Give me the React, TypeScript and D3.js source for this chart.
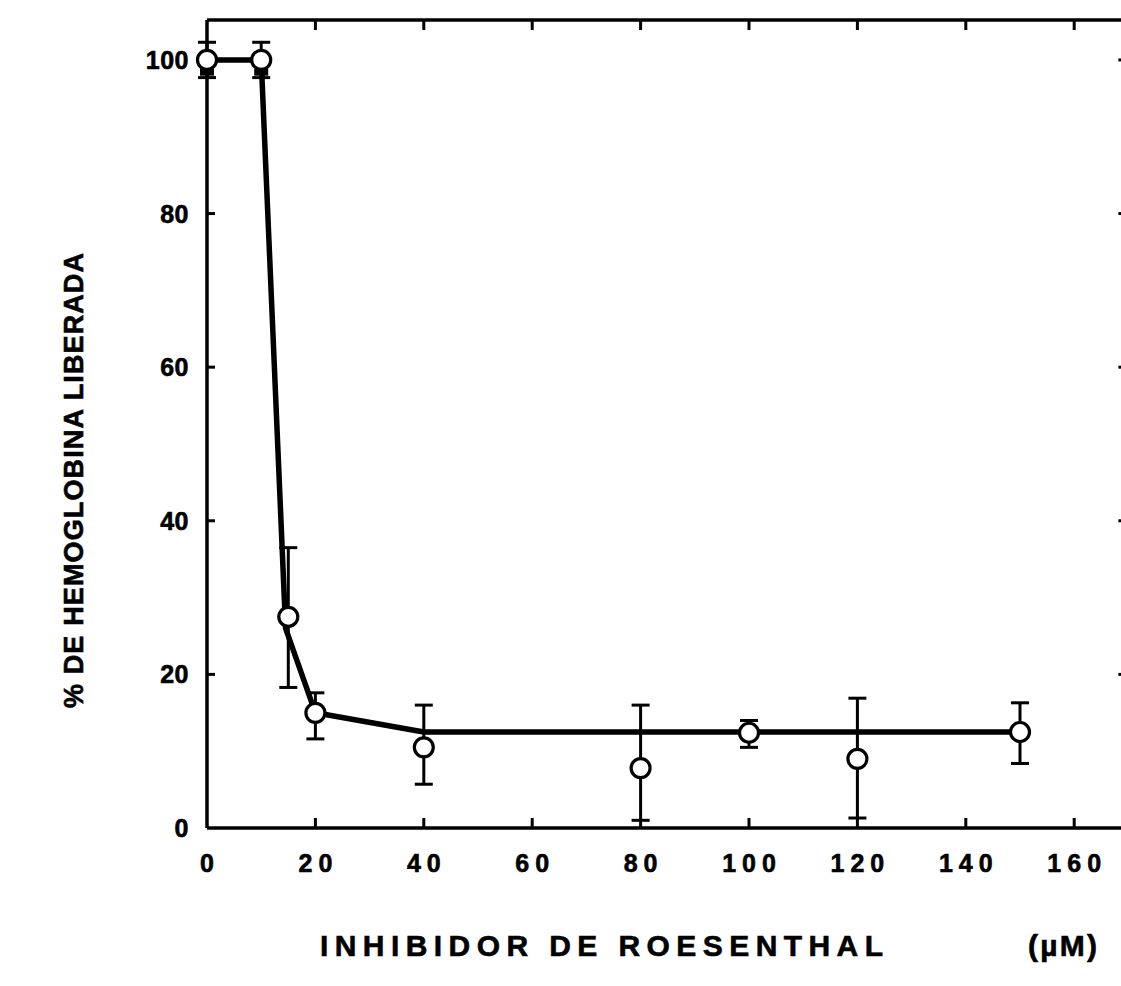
import React from "react";
import * as d3 from "d3";

// Data: open circles with error bars
const pointX = [0, 10, 15, 20, 40, 80, 100, 120, 150];
const pointY = [100, 100, 27.5, 15, 10.5, 7.8, 12.4, 9, 12.5];
const errHigh = [102.3, 102.3, 36.5, 17.6, 16, 16, 14, 16.9, 16.3];
const errLow = [97.7, 97.7, 18.3, 11.6, 5.7, 1, 10.5, 1.3, 8.4];

// Fitted line
const fitX = [0, 10, 14.5, 20, 40, 150];
const fitY = [100, 100, 26, 15, 12.5, 12.5];

// filled markers under the first points
const filledX = [0, 10];
const filledY = [98.6, 98.6];

const xTicks = [0, 20, 40, 60, 80, 100, 120, 140, 160];
const yTicks = [0, 20, 40, 60, 80, 100];

const xTitle = "INHIBIDOR DE ROESENTHAL";
const xUnit = "(\u00B5M)";
const yTitle = "% DE HEMOGLOBINA LIBERADA";

export default function App() {
  const W = 1121;
  const H = 986;
  const left = 207;
  const bottom = 828;
  const top = 20;
  const x = d3.scaleLinear().domain([0, 170]).range([left, left + 170 * 5.42]);
  const y = d3.scaleLinear().domain([0, 105.2]).range([bottom, top]);
  const right = x(170);

  const line = d3
    .line<number>()
    .x((_, i) => x(fitX[i]))
    .y((_, i) => y(fitY[i]));
  const fitPath = line(fitX.map((_, i) => i)) || "";

  const font = "'Liberation Sans', Arial, Helvetica, sans-serif";
  const tickLen = 10;

  return (
    <svg
      width={W}
      height={H}
      style={{ position: "absolute", left: 0, top: 0, background: "#fff" }}
    >
      <rect x={0} y={0} width={W} height={H} fill="#fff" />
      {/* frame */}
      <g stroke="#000" strokeWidth={3.5} fill="none">
        <line x1={left} y1={top} x2={right} y2={top} />
        <line x1={left} y1={bottom} x2={right} y2={bottom} />
        <line x1={left} y1={top} x2={left} y2={bottom} />
        <line x1={right} y1={top} x2={right} y2={bottom} />
      </g>
      {/* ticks */}
      <g stroke="#000" strokeWidth={3}>
        {xTicks.filter((t) => t > 0).map((t) => (
          <g key={"xt" + t}>
            <line x1={x(t)} x2={x(t)} y1={bottom} y2={bottom - tickLen} />
            <line x1={x(t)} x2={x(t)} y1={top} y2={top + tickLen} />
          </g>
        ))}
        {yTicks.filter((t) => t > 0).map((t) => (
          <g key={"yt" + t}>
            <line x1={left} x2={left + 8} y1={y(t)} y2={y(t)} />
            <line x1={right} x2={right - tickLen} y1={y(t)} y2={y(t)} />
          </g>
        ))}
      </g>
      {/* tick labels */}
      <g fontFamily={font} fontWeight="bold" fontSize={25} fill="#000" stroke="#000" strokeWidth={0.6}>
        {xTicks.map((t) => (
          <text
            key={"xl" + t}
            x={x(t) + 3}
            y={bottom + 44}
            textAnchor="middle"
            letterSpacing={6}
          >
            {String(t)}
          </text>
        ))}
        {yTicks.map((t) => (
          <text
            key={"yl" + t}
            x={left - 18}
            y={y(t) + 9}
            textAnchor="end"
            letterSpacing={0.5}
          >
            {String(t)}
          </text>
        ))}
      </g>
      {/* fit line */}
      <path d={fitPath} fill="none" stroke="#000" strokeWidth={5.5} strokeLinejoin="round" />
      {/* error bars */}
      <g stroke="#000" strokeWidth={3}>
        {pointX.map((px, i) => (
          <g key={"e" + i}>
            <line x1={x(px)} x2={x(px)} y1={y(errHigh[i])} y2={y(errLow[i])} />
            <line x1={x(px) - 9} x2={x(px) + 9} y1={y(errHigh[i])} y2={y(errHigh[i])} />
            <line x1={x(px) - 9} x2={x(px) + 9} y1={y(errLow[i])} y2={y(errLow[i])} />
          </g>
        ))}
      </g>
      {/* open circles */}
      <g stroke="#000" strokeWidth={3.2} fill="#fff">
        {pointX.map((px, i) => (
          <circle key={"c" + i} cx={x(px)} cy={y(pointY[i])} r={9.5} />
        ))}
      </g>
      {/* filled markers */}
      <g fill="#000">
        {filledX.map((fx, i) => (
          <rect key={"f" + i} x={x(fx) - 7} y={y(filledY[i]) - 2} width={14} height={7} />
        ))}
      </g>
      {/* axis titles */}
      <g fontFamily={font} fontWeight="bold" fill="#000" stroke="#000" strokeWidth={0.6}>
        <text x={320} y={956} fontSize={30} textLength={563} lengthAdjust="spacing">
          {xTitle}
        </text>
        <text x={1028} y={956} fontSize={30} textLength={69} lengthAdjust="spacing">
          {xUnit}
        </text>
        <text
          transform="translate(83,708) rotate(-90)"
          fontSize={27}
          textLength={455}
          lengthAdjust="spacing"
        >
          {yTitle}
        </text>
      </g>
    </svg>
  );
}
